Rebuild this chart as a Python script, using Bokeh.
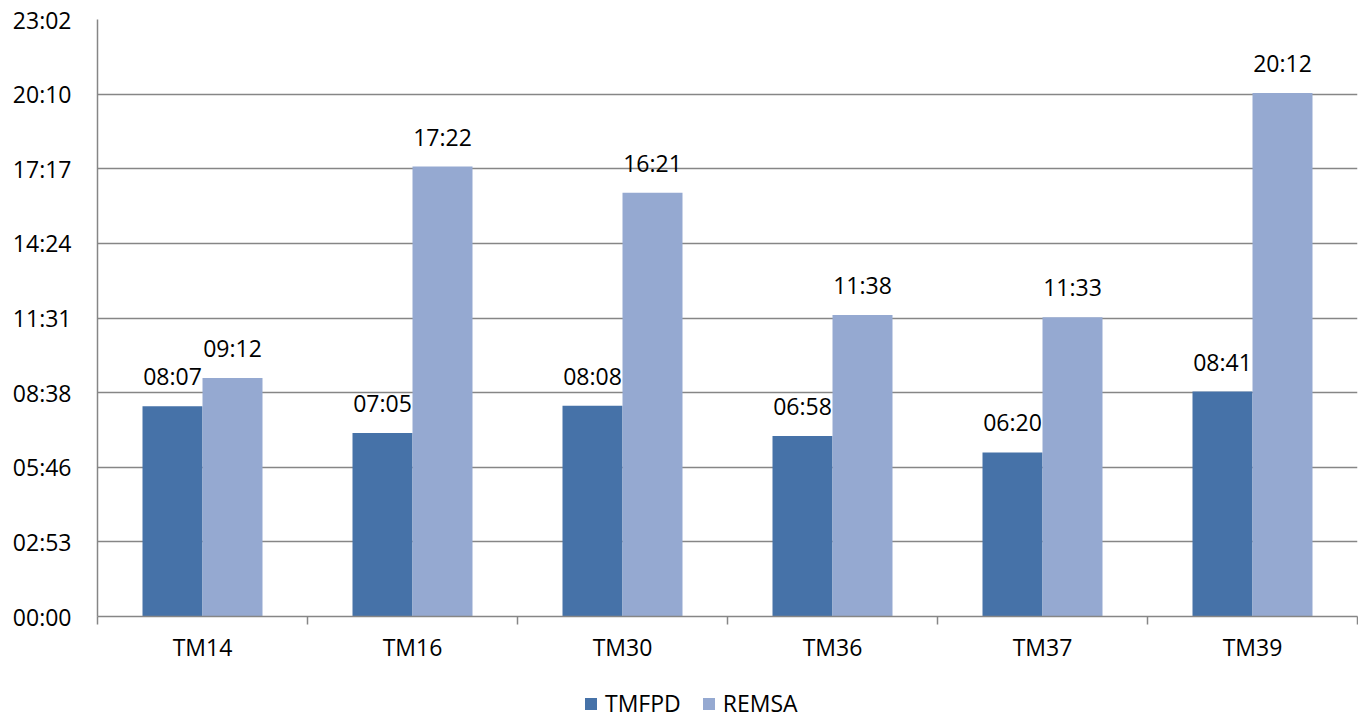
from bokeh.plotting import figure
from bokeh.layouts import column
from bokeh.models import (ColumnDataSource, Range1d, FixedTicker, LabelSet, Legend, LegendItem)
from bokeh.core.properties import value
from bokeh.transform import dodge
from bokeh.embed import file_html
from bokeh.resources import INLINE

categories = ["TM14", "TM16", "TM30", "TM36", "TM37", "TM39"]
series_names = ["TMFPD", "REMSA"]
# times in seconds (mm:ss)
tmfpd = [487, 425, 488, 418, 380, 521]     # 08:07 07:05 08:08 06:58 06:20 08:41
remsa = [552, 1042, 981, 698, 693, 1212]   # 09:12 17:22 16:21 11:38 11:33 20:12
y_major_unit = 172.8   # seconds (0.002 day)
y_max = 1382.4
colors = ["#4672A8", "#95A9D1"]

FONT = "Open Sans"
FS = "23px"
GRID = "#868686"


def mmss(sec):
    s = int(round(sec))
    return f"{s // 60:02d}:{s % 60:02d}"


xs = [i + 0.5 for i in range(len(categories))]
src = ColumnDataSource(dict(
    x=xs,
    tmfpd=tmfpd,
    remsa=remsa,
    tmfpd_lbl=[mmss(v) for v in tmfpd],
    remsa_lbl=[mmss(v) for v in remsa],
))

p = figure(width=1358, height=676, output_backend="svg", toolbar_location=None,
           x_range=Range1d(0, len(categories)), y_range=Range1d(0, y_max),
           min_border_left=97, min_border_right=1, min_border_top=19, min_border_bottom=60)
p.outline_line_color = None
p.background_fill_color = "white"

bw = 60 / 210
off = bw / 2
r1 = p.vbar(x=dodge("x", -off, range=p.x_range), top="tmfpd", width=bw, source=src,
            fill_color=colors[0], line_color=None)
r2 = p.vbar(x=dodge("x", off, range=p.x_range), top="remsa", width=bw, source=src,
            fill_color=colors[1], line_color=None)

for col, lbl, o in (("tmfpd", "tmfpd_lbl", -off), ("remsa", "remsa_lbl", off)):
    ls = LabelSet(x=dodge("x", o, range=p.x_range), y=col, text=lbl, source=src,
                  y_offset=21, text_align="center", text_baseline="alphabetic",
                  text_font=value(FONT), text_font_size=value(FS), text_color="black")
    p.add_layout(ls)

# y axis
yt = [i * y_major_unit for i in range(9)]
p.yaxis.ticker = FixedTicker(ticks=yt)
p.yaxis.major_label_overrides = {t: mmss(t) for t in yt}
p.yaxis.major_tick_out = 0
p.yaxis.major_tick_in = 0
p.yaxis.minor_tick_out = 0
p.yaxis.minor_tick_in = 0
p.yaxis.major_label_standoff = 26
p.yaxis.axis_line_color = GRID
p.yaxis.axis_line_width = 1.5
p.yaxis.major_label_text_font = FONT
p.yaxis.major_label_text_font_size = FS
p.yaxis.major_label_text_color = "black"

p.ygrid.grid_line_color = GRID
p.ygrid.grid_line_width = 1.5
p.xgrid.grid_line_color = None

# x axis: labels at centers, ticks at category boundaries
p.xaxis.ticker = FixedTicker(ticks=xs, minor_ticks=list(range(len(categories) + 1)))
p.xaxis.major_label_overrides = {x: c for x, c in zip(xs, categories)}
p.xaxis.major_tick_out = 0
p.xaxis.major_tick_in = 0
p.xaxis.minor_tick_out = 8
p.xaxis.minor_tick_in = 0
p.xaxis.minor_tick_line_color = GRID
p.xaxis.minor_tick_line_width = 1.5
p.xaxis.axis_line_color = GRID
p.xaxis.axis_line_width = 1.5
p.xaxis.major_label_standoff = 6
p.xaxis.major_label_text_font = FONT
p.xaxis.major_label_text_font_size = FS
p.xaxis.major_label_text_color = "black"

# legend strip below the chart (proxy renderers of zero width, only for legend swatches)
lg = figure(width=1358, height=43, output_backend="svg", toolbar_location=None,
            x_range=Range1d(0, 1), y_range=Range1d(0, 1),
            x_axis_type=None, y_axis_type=None, min_border=0)
lg.outline_line_color = None
lg.grid.visible = False
lr = [lg.vbar(x=[0], top=[0], width=0, fill_color=c, line_color=None) for c in colors]
legend = Legend(items=[LegendItem(label=n, renderers=[r]) for n, r in zip(series_names, lr)],
                orientation="horizontal", location=(486, 0),
                glyph_width=15, glyph_height=15, label_standoff=7, spacing=20,
                padding=0, margin=0, border_line_color=None, background_fill_alpha=0,
                label_text_font=FONT, label_text_font_size=FS, label_text_color="black")
lg.add_layout(legend)

layout = column(p, lg, spacing=0)
open("out.html", "w").write(file_html(layout, INLINE))
